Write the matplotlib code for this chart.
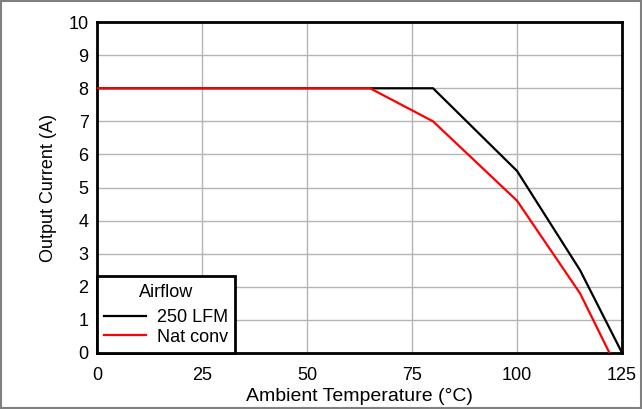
import matplotlib
matplotlib.use("Agg")
import matplotlib.pyplot as plt
from matplotlib.patches import Rectangle

plt.rcParams['font.family'] = ['Liberation Sans', 'DejaVu Sans']

# derating curves
temp_lfm = [0, 80, 100, 115, 125]
curr_lfm = [8, 8, 5.5, 2.5, 0]
temp_nat = [0, 65, 80, 100, 115, 122]
curr_nat = [8, 8, 7, 4.6, 1.8, 0]
x_ticks = [0, 25, 50, 75, 100, 125]
y_ticks = list(range(0, 11))

fig = plt.figure(figsize=(6.42, 4.09), dpi=100)
ax = fig.add_axes([0.151, 0.137, 0.818, 0.809])

ax.plot(temp_lfm, curr_lfm, color='black', lw=1.6, label='250 LFM', zorder=3)
ax.plot(temp_nat, curr_nat, color='#ff0000', lw=1.6, label='Nat conv', zorder=3)

ax.set_xlim(0, 125)
ax.set_ylim(0, 10)
ax.set_xticks(x_ticks)
ax.set_yticks(y_ticks)
ax.tick_params(length=0, labelsize=13)
ax.tick_params(axis='x', pad=10)
ax.tick_params(axis='y', pad=6)
ax.grid(True, color='#b4b4b4', lw=1)
for s in ax.spines.values():
    s.set_linewidth(2)
    s.set_color('black')
ax.set_xlabel('Ambient Temperature (°C)', fontsize=14, labelpad=3)
ax.set_ylabel('Output Current (A)', fontsize=13, labelpad=8)

leg = ax.legend(title='Airflow', loc='lower left', borderaxespad=0, fancybox=False,
                framealpha=1, edgecolor='black', fontsize=13, title_fontsize=13,
                handlelength=2.3, handletextpad=0.6, labelspacing=0.15,
                borderpad=0.4)
leg._legend_box.sep = 6
leg.get_frame().set_linewidth(2)

# outer frame
fig.patches.append(Rectangle((0.002, 0.002), 0.996, 0.996, transform=fig.transFigure,
                             fill=False, edgecolor='#808080', lw=1.5))

fig.savefig('out.png', dpi=100)
